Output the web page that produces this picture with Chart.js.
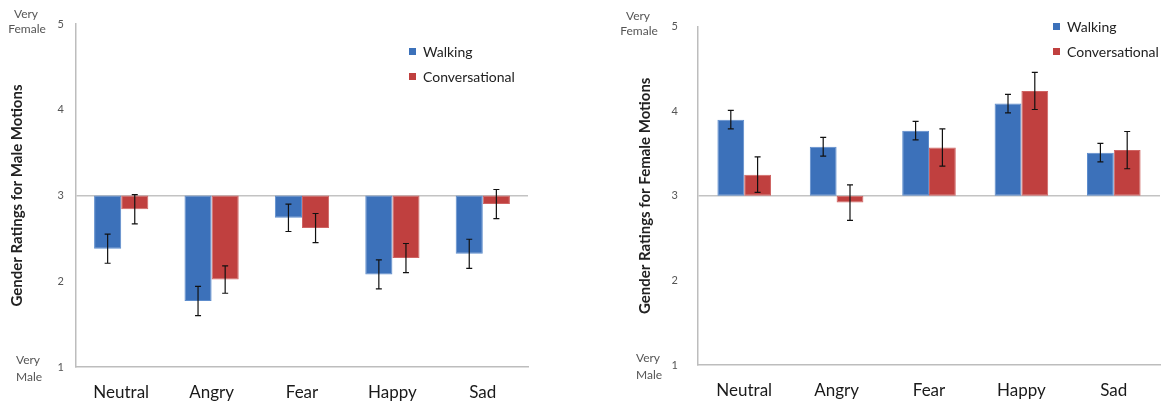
<!DOCTYPE html>
<html>
<head>
<meta charset="utf-8">
<script src="https://cdn.jsdelivr.net/npm/chart.js@4/dist/chart.umd.min.js"></script>
<style>
  html, body { margin: 0; padding: 0; background: #fff; }
  body { width: 1172px; height: 404px; position: relative; overflow: hidden; }
  .wrap { position: absolute; top: 0; height: 404px; }
  #w1 { left: 0; width: 540px; }
  #w2 { left: 600px; width: 572px; }
</style>
</head>
<body>
<div class="wrap" id="w1"><canvas id="c1"></canvas></div>
<div class="wrap" id="w2"><canvas id="c2"></canvas></div>
<script>
const categories = ['Neutral', 'Angry', 'Fear', 'Happy', 'Sad'];
const seriesNames = ['Walking', 'Conversational'];
const yTicks = [1, 2, 3, 4, 5];
const baseline = 3;

const maleWalking = [2.38, 1.77, 2.74, 2.08, 2.32];
const maleWalkingErr = [0.17, 0.17, 0.16, 0.17, 0.17];
const maleConv = [2.84, 2.02, 2.62, 2.27, 2.90];
const maleConvErr = [0.17, 0.16, 0.17, 0.17, 0.17];

const femaleWalking = [3.90, 3.58, 3.77, 4.09, 3.51];
const femaleWalkingErr = [0.11, 0.11, 0.11, 0.11, 0.11];
const femaleConv = [3.25, 2.92, 3.57, 4.24, 3.54];
const femaleConvErr = [0.21, 0.21, 0.22, 0.22, 0.22];

const FONT = "Lato, 'Open Sans', 'DejaVu Sans', sans-serif";
const BLUE = '#3c71ba';
const RED = '#c0403f';

const errorBarPlugin = {
  id: 'errorBars',
  afterDatasetsDraw(chart) {
    const ctx = chart.ctx;
    const y = chart.scales.y;
    ctx.save();
    ctx.strokeStyle = '#111';
    ctx.lineWidth = 1.2;
    chart.data.datasets.forEach((ds, di) => {
      const meta = chart.getDatasetMeta(di);
      meta.data.forEach((el, i) => {
        const v = ds.values[i], e = ds.errors[i];
        const x = el.x;
        const y1 = y.getPixelForValue(v + e), y2 = y.getPixelForValue(v - e);
        ctx.beginPath();
        ctx.moveTo(x, y1); ctx.lineTo(x, y2);
        ctx.moveTo(x - 3, y1); ctx.lineTo(x + 3, y1);
        ctx.moveTo(x - 3, y2); ctx.lineTo(x + 3, y2);
        ctx.stroke();
      });
    });
    ctx.restore();
  }
};

const extrasPlugin = {
  id: 'extras',
  afterDraw(chart, args, opts) {
    const ctx = chart.ctx;
    const y = chart.scales.y;
    ctx.save();
    ctx.fillStyle = '#555';
    ctx.font = '12px ' + FONT;
    ctx.textAlign = 'center';
    ctx.textBaseline = 'middle';
    const yTop = y.getPixelForValue(5), yBot = y.getPixelForValue(1);
    ctx.fillText('Very', opts.endX, yTop - 10);
    ctx.fillText('Female', opts.endX + 1, yTop + 5);
    ctx.fillText('Very', opts.endX + opts.maleShift, yBot - 7);
    ctx.fillText('Male', opts.endX + opts.maleShift + 1, yBot + 10);
    ctx.font = '14px ' + FONT;
    ctx.textAlign = 'left';
    chart.data.datasets.forEach((ds, i) => {
      const ly = opts.legendY + i * 25;
      ctx.fillStyle = ds.backgroundColor;
      ctx.fillRect(opts.legendX, ly - 4, 7, 7);
      ctx.fillStyle = '#222';
      ctx.fillText(ds.label, opts.legendX + 14, ly);
    });
    ctx.restore();
  }
};

function makeChart(id, title, walk, walkErr, conv, convErr, cfg) {
  const toFloat = arr => arr.map(v => [baseline, v]);
  return new Chart(document.getElementById(id), {
    type: 'bar',
    data: {
      labels: categories,
      datasets: [
        { label: seriesNames[0], data: toFloat(walk), values: walk, errors: walkErr,
          backgroundColor: BLUE, borderColor: '#5d8ccc', borderWidth: 1, borderSkipped: false },
        { label: seriesNames[1], data: toFloat(conv), values: conv, errors: convErr,
          backgroundColor: RED, borderColor: '#cf6463', borderWidth: 1, borderSkipped: false }
      ]
    },
    options: {
      responsive: true,
      maintainAspectRatio: false,
      animation: false,
      layout: { padding: cfg.padding },
      datasets: { bar: { categoryPercentage: cfg.catPct, barPercentage: 1.0, grouped: true } },
      plugins: {
        legend: { display: false },
        tooltip: { enabled: false },
        extras: cfg.extras
      },
      scales: {
        x: {
          grid: { display: false, drawTicks: false },
          border: { display: true, color: '#bdbdbd', width: 1.5 },
          ticks: { color: '#1a1a1a', font: { family: FONT, size: 17 }, padding: 15 },
          afterFit(s) { s.height = cfg.xHeight; }
        },
        y: {
          min: 1, max: 5,
          afterBuildTicks(s) { s.ticks = yTicks.map(v => ({ value: v })); },
          grid: {
            drawTicks: false,
            color: c => (c.tick && c.tick.value === baseline) ? '#c3c3c3' : 'rgba(0,0,0,0)',
            lineWidth: 1.5
          },
          border: { display: true, color: '#bdbdbd', width: 1.5 },
          ticks: { color: '#555', font: { family: FONT, size: 11 }, padding: cfg.tickPad },
          title: { display: true, text: title, color: '#222',
                   font: { family: FONT, size: 15, weight: 'bold' }, padding: { top: 0, bottom: 0 } },
          afterFit(s) { s.width = cfg.yWidth; }
        }
      }
    },
    plugins: [errorBarPlugin, extrasPlugin]
  });
}

makeChart('c1', 'Gender Ratings for Male Motions', maleWalking, maleWalkingErr, maleConv, maleConvErr, {
  padding: { top: 24, right: 12, bottom: 0, left: 8 },
  xHeight: 37, yWidth: 68, tickPad: 12, catPct: 0.6,
  extras: { endX: 26, maleShift: 2, legendX: 409, legendY: 52 }
});

makeChart('c2', 'Gender Ratings for Female Motions', femaleWalking, femaleWalkingErr, femaleConv, femaleConvErr, {
  padding: { top: 23, right: 12, bottom: 0, left: 36 },
  xHeight: 39, yWidth: 62, tickPad: 20, catPct: 0.58,
  extras: { endX: 38, maleShift: 10, legendX: 453, legendY: 27 }
});
</script>
</body>
</html>
